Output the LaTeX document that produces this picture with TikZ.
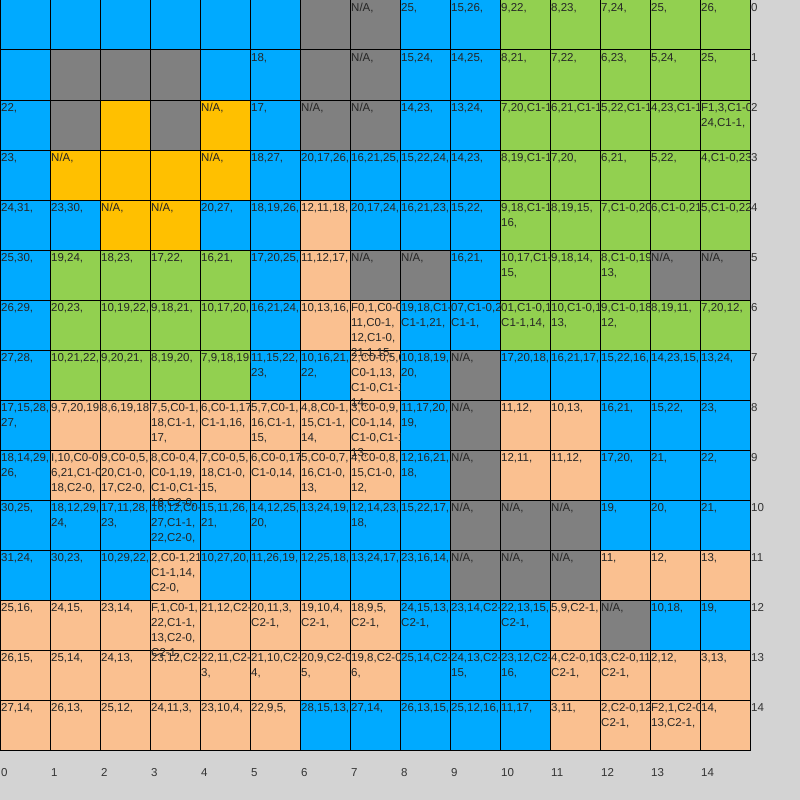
\documentclass[tikz,border=0pt]{standalone}
\usepackage{fontspec}
\setmainfont{Liberation Sans}
\definecolor{cb}{RGB}{0,170,255}
\definecolor{cg}{RGB}{128,128,128}
\definecolor{cy}{RGB}{255,192,0}
\definecolor{cl}{RGB}{146,208,80}
\definecolor{cp}{RGB}{250,192,144}
\definecolor{bgc}{RGB}{211,211,211}
\tikzset{
  cellbox/.style={draw=black, line width=1pt, minimum width=50pt, minimum height=50pt, inner sep=0pt, outer sep=0pt},
  txt/.style={anchor=north west, inner sep=0pt, align=left, font=\fontsize{11.5}{15}\selectfont, text=black!85},
  axlbl/.style={anchor=north west, inner sep=0pt, font=\fontsize{11.5}{15}\selectfont, text=black!80}
}
\newcommand\drawfill[4]{\node[cellbox, fill=#3] (c-#1-#2) at ({50*#1+25},{-50*#2-25}) {};}
\newcommand\drawtext[4]{\if\relax\detokenize{#4}\relax\else
  \begin{scope}\clip ({50*#1},{-50*#2}) rectangle ({50*#1+50},{-50*#2-80});
  \node[txt] (t-#1-#2) at ({50*#1+1},{-50*#2-3}) {#4};\end{scope}\fi}
\newcommand\celldata{%
\C{0}{0}{cb}{}\C{1}{0}{cb}{}\C{2}{0}{cb}{}\C{3}{0}{cb}{}\C{4}{0}{cb}{}\C{5}{0}{cb}{}\C{6}{0}{cg}{}\C{7}{0}{cg}{N/A,}\C{8}{0}{cb}{25,}\C{9}{0}{cb}{15,26,}\C{10}{0}{cl}{9,22,}\C{11}{0}{cl}{8,23,}\C{12}{0}{cl}{7,24,}\C{13}{0}{cl}{25,}\C{14}{0}{cl}{26,}%
\C{0}{1}{cb}{}\C{1}{1}{cg}{}\C{2}{1}{cg}{}\C{3}{1}{cg}{}\C{4}{1}{cb}{}\C{5}{1}{cb}{18,}\C{6}{1}{cg}{}\C{7}{1}{cg}{N/A,}\C{8}{1}{cb}{15,24,}\C{9}{1}{cb}{14,25,}\C{10}{1}{cl}{8,21,}\C{11}{1}{cl}{7,22,}\C{12}{1}{cl}{6,23,}\C{13}{1}{cl}{5,24,}\C{14}{1}{cl}{25,}%
\C{0}{2}{cb}{22,}\C{1}{2}{cg}{}\C{2}{2}{cy}{}\C{3}{2}{cg}{}\C{4}{2}{cy}{N/A,}\C{5}{2}{cb}{17,}\C{6}{2}{cg}{N/A,}\C{7}{2}{cg}{N/A,}\C{8}{2}{cb}{14,23,}\C{9}{2}{cb}{13,24,}\C{10}{2}{cl}{7,20,C1-1}\C{11}{2}{cl}{6,21,C1-1}\C{12}{2}{cl}{5,22,C1-1}\C{13}{2}{cl}{4,23,C1-1}\C{14}{2}{cl}{F1,3,C1-0\\24,C1-1,}%
\C{0}{3}{cb}{23,}\C{1}{3}{cy}{N/A,}\C{2}{3}{cy}{}\C{3}{3}{cy}{}\C{4}{3}{cy}{N/A,}\C{5}{3}{cb}{18,27,}\C{6}{3}{cb}{20,17,26,}\C{7}{3}{cb}{16,21,25,}\C{8}{3}{cb}{15,22,24,}\C{9}{3}{cb}{14,23,}\C{10}{3}{cl}{8,19,C1-1}\C{11}{3}{cl}{7,20,}\C{12}{3}{cl}{6,21,}\C{13}{3}{cl}{5,22,}\C{14}{3}{cl}{4,C1-0,23}%
\C{0}{4}{cb}{24,31,}\C{1}{4}{cb}{23,30,}\C{2}{4}{cy}{N/A,}\C{3}{4}{cy}{N/A,}\C{4}{4}{cb}{20,27,}\C{5}{4}{cb}{18,19,26,}\C{6}{4}{cp}{12,11,18,}\C{7}{4}{cb}{20,17,24,}\C{8}{4}{cb}{16,21,23,}\C{9}{4}{cb}{15,22,}\C{10}{4}{cl}{9,18,C1-1\\16,}\C{11}{4}{cl}{8,19,15,}\C{12}{4}{cl}{7,C1-0,20}\C{13}{4}{cl}{6,C1-0,21}\C{14}{4}{cl}{5,C1-0,22}%
\C{0}{5}{cb}{25,30,}\C{1}{5}{cl}{19,24,}\C{2}{5}{cl}{18,23,}\C{3}{5}{cl}{17,22,}\C{4}{5}{cl}{16,21,}\C{5}{5}{cb}{17,20,25,}\C{6}{5}{cp}{11,12,17,}\C{7}{5}{cg}{N/A,}\C{8}{5}{cg}{N/A,}\C{9}{5}{cb}{16,21,}\C{10}{5}{cl}{10,17,C1-\\15,}\C{11}{5}{cl}{9,18,14,}\C{12}{5}{cl}{8,C1-0,19\\13,}\C{13}{5}{cg}{N/A,}\C{14}{5}{cg}{N/A,}%
\C{0}{6}{cb}{26,29,}\C{1}{6}{cl}{20,23,}\C{2}{6}{cl}{10,19,22,}\C{3}{6}{cl}{9,18,21,}\C{4}{6}{cl}{10,17,20,}\C{5}{6}{cb}{16,21,24,}\C{6}{6}{cp}{10,13,16,}\C{7}{6}{cp}{F0,1,C0-0\\11,C0-1,\\12,C1-0,\\21,1,15,}\C{8}{6}{cb}{19,18,C1-0\\C1-1,21,}\C{9}{6}{cb}{07,C1-0,2\\C1-1,}\C{10}{6}{cl}{01,C1-0,16\\C1-1,14,}\C{11}{6}{cl}{10,C1-0,17\\13,}\C{12}{6}{cl}{9,C1-0,18\\12,}\C{13}{6}{cl}{8,19,11,}\C{14}{6}{cl}{7,20,12,}%
\C{0}{7}{cb}{27,28,}\C{1}{7}{cl}{10,21,22,}\C{2}{7}{cl}{9,20,21,}\C{3}{7}{cl}{8,19,20,}\C{4}{7}{cl}{7,9,18,19,}\C{5}{7}{cb}{11,15,22,\\23,}\C{6}{7}{cb}{10,16,21,\\22,}\C{7}{7}{cp}{2,C0-0,5,0\\C0-1,13,\\C1-0,C1-1,\\14,}\C{8}{7}{cb}{10,18,19,\\20,}\C{9}{7}{cg}{N/A,}\C{10}{7}{cb}{17,20,18,}\C{11}{7}{cb}{16,21,17,}\C{12}{7}{cb}{15,22,16,}\C{13}{7}{cb}{14,23,15,}\C{14}{7}{cb}{13,24,}%
\C{0}{8}{cb}{17,15,28,\\27,}\C{1}{8}{cp}{9,7,20,19,}\C{2}{8}{cp}{8,6,19,18,}\C{3}{8}{cp}{7,5,C0-1,\\18,C1-1,\\17,}\C{4}{8}{cp}{6,C0-1,17\\C1-1,16,}\C{5}{8}{cp}{5,7,C0-1,\\16,C1-1,\\15,}\C{6}{8}{cp}{4,8,C0-1,\\15,C1-1,\\14,}\C{7}{8}{cp}{3,C0-0,9,\\C0-1,14,\\C1-0,C1-1,\\13,}\C{8}{8}{cb}{11,17,20,\\19,}\C{9}{8}{cg}{N/A,}\C{10}{8}{cp}{11,12,}\C{11}{8}{cp}{10,13,}\C{12}{8}{cb}{16,21,}\C{13}{8}{cb}{15,22,}\C{14}{8}{cb}{23,}%
\C{0}{9}{cb}{18,14,29,\\26,}\C{1}{9}{cp}{I,10,C0-0\\6,21,C1-0\\18,C2-0,}\C{2}{9}{cp}{9,C0-0,5,\\20,C1-0,\\17,C2-0,}\C{3}{9}{cp}{8,C0-0,4,\\C0-1,19,\\C1-0,C1-1,\\16,C2-0,}\C{4}{9}{cp}{7,C0-0,5,\\18,C1-0,\\15,}\C{5}{9}{cp}{6,C0-0,17\\C1-0,14,}\C{6}{9}{cp}{5,C0-0,7,\\16,C1-0,\\13,}\C{7}{9}{cp}{4,C0-0,8,\\15,C1-0,\\12,}\C{8}{9}{cb}{12,16,21,\\18,}\C{9}{9}{cg}{N/A,}\C{10}{9}{cp}{12,11,}\C{11}{9}{cp}{11,12,}\C{12}{9}{cb}{17,20,}\C{13}{9}{cb}{21,}\C{14}{9}{cb}{22,}%
\C{0}{10}{cb}{30,25,}\C{1}{10}{cb}{18,12,29,\\24,}\C{2}{10}{cb}{17,11,28,\\23,}\C{3}{10}{cb}{16,12,C0-1\\27,C1-1,\\22,C2-0,}\C{4}{10}{cb}{15,11,26,\\21,}\C{5}{10}{cb}{14,12,25,\\20,}\C{6}{10}{cb}{13,24,19,}\C{7}{10}{cb}{12,14,23,\\18,}\C{8}{10}{cb}{15,22,17,}\C{9}{10}{cg}{N/A,}\C{10}{10}{cg}{N/A,}\C{11}{10}{cg}{N/A,}\C{12}{10}{cb}{19,}\C{13}{10}{cb}{20,}\C{14}{10}{cb}{21,}%
\C{0}{11}{cb}{31,24,}\C{1}{11}{cb}{30,23,}\C{2}{11}{cb}{10,29,22,}\C{3}{11}{cp}{2,C0-1,21\\C1-1,14,\\C2-0,}\C{4}{11}{cb}{10,27,20,}\C{5}{11}{cb}{11,26,19,}\C{6}{11}{cb}{12,25,18,}\C{7}{11}{cb}{13,24,17,}\C{8}{11}{cb}{23,16,14,}\C{9}{11}{cg}{N/A,}\C{10}{11}{cg}{N/A,}\C{11}{11}{cg}{N/A,}\C{12}{11}{cp}{11,}\C{13}{11}{cp}{12,}\C{14}{11}{cp}{13,}%
\C{0}{12}{cp}{25,16,}\C{1}{12}{cp}{24,15,}\C{2}{12}{cp}{23,14,}\C{3}{12}{cp}{F,1,C0-1,\\22,C1-1,\\13,C2-0,\\C2-1,}\C{4}{12}{cp}{21,12,C2-}\C{5}{12}{cp}{20,11,3,\\C2-1,}\C{6}{12}{cp}{19,10,4,\\C2-1,}\C{7}{12}{cp}{18,9,5,\\C2-1,}\C{8}{12}{cb}{24,15,13,\\C2-1,}\C{9}{12}{cb}{23,14,C2-}\C{10}{12}{cb}{22,13,15,\\C2-1,}\C{11}{12}{cp}{5,9,C2-1,}\C{12}{12}{cg}{N/A,}\C{13}{12}{cb}{10,18,}\C{14}{12}{cb}{19,}%
\C{0}{13}{cp}{26,15,}\C{1}{13}{cp}{25,14,}\C{2}{13}{cp}{24,13,}\C{3}{13}{cp}{23,12,C2-0}\C{4}{13}{cp}{22,11,C2-\\3,}\C{5}{13}{cp}{21,10,C2-0\\4,}\C{6}{13}{cp}{20,9,C2-0\\5,}\C{7}{13}{cp}{19,8,C2-0\\6,}\C{8}{13}{cb}{25,14,C2-0}\C{9}{13}{cb}{24,13,C2-\\15,}\C{10}{13}{cb}{23,12,C2-0\\16,}\C{11}{13}{cp}{4,C2-0,10\\C2-1,}\C{12}{13}{cp}{3,C2-0,11\\C2-1,}\C{13}{13}{cp}{2,12,}\C{14}{13}{cp}{3,13,}%
\C{0}{14}{cp}{27,14,}\C{1}{14}{cp}{26,13,}\C{2}{14}{cp}{25,12,}\C{3}{14}{cp}{24,11,3,}\C{4}{14}{cp}{23,10,4,}\C{5}{14}{cp}{22,9,5,}\C{6}{14}{cb}{28,15,13,}\C{7}{14}{cb}{27,14,}\C{8}{14}{cb}{26,13,15,}\C{9}{14}{cb}{25,12,16,}\C{10}{14}{cb}{11,17,}\C{11}{14}{cp}{3,11,}\C{12}{14}{cp}{2,C2-0,12\\C2-1,}\C{13}{14}{cp}{F2,1,C2-0\\13,C2-1,}\C{14}{14}{cp}{14,}%
}
\begin{document}
\begin{tikzpicture}[x=1pt,y=1pt]
\fill[bgc] (0,0) rectangle (800,-800);
\useasboundingbox (0,0) rectangle (800,-800);
\let\C\drawfill
\celldata
\let\C\drawtext
\celldata
\foreach \i in {0,...,14}{
  \node[axlbl] (cx-\i) at ({50*\i+1},-768) {\i};
  \node[axlbl] (ry-\i) at (751,{-50*\i-3}) {\i};
}
\end{tikzpicture}
\end{document}
